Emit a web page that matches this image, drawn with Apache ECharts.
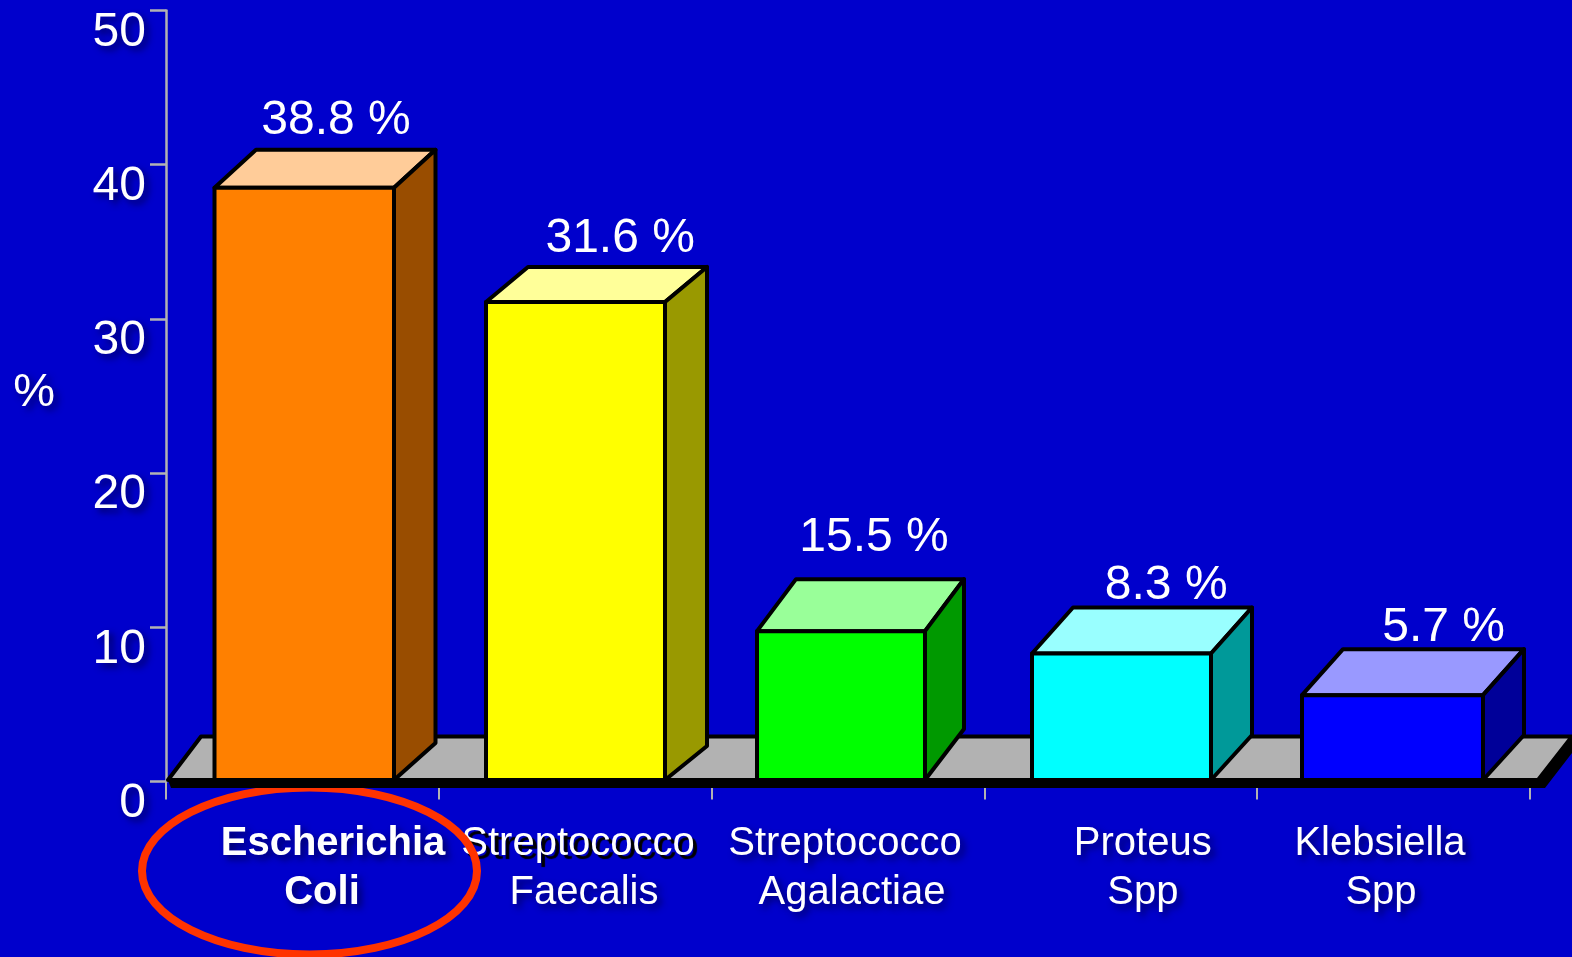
<!DOCTYPE html>
<html>
<head>
<meta charset="utf-8">
<style>
  html, body { margin: 0; padding: 0; background: #0000cc; }
  #chart { width: 1572px; height: 957px; }
</style>
<script src="https://cdn.jsdelivr.net/npm/echarts@6/dist/echarts.min.js"></script>
</head>
<body>
<div id="chart"></div>
<script>
// data (drawn heights differ from the printed labels)
const categories = ['Escherichia\nColi', 'Streptococco\nFaecalis', 'Streptococco\nAgalactiae', 'Proteus\nSpp', 'Klebsiella\nSpp'];
const barHeights = [38.5, 31.1, 9.75, 8.3, 5.6];
const barLabels = ['38.8 %', '31.6 %', '15.5 %', '8.3 %', '5.7 %'];
const yTicks = [0, 10, 20, 30, 40, 50];

// colours per box
const frontColors = ['#ff8000', '#ffff00', '#00ff00', '#00ffff', '#0000ff'];
const topColors = ['#ffcc99', '#ffff99', '#99ff99', '#99ffff', '#9999ff'];
const sideColors = ['#994d00', '#999900', '#009900', '#009999', '#000099'];

// hand placed box geometry, in pixels
const boxLeft = [-87.9, -89.2, -91, -88.8, -91.6];
const boxWidth = [179.5, 179, 168, 179, 181];
const boxDepthX = [41.5, 42, 39, 41, 41];
const boxDepthY = [38, 35, 52, 46, 46];
const labelDx = [33.6, 45, 26, 45.4, 50];
const labelDy = [29, 28.5, 41, 21.5, 21.4];
const nameDx = [[30.6, 19.6], [2.8, 8.8], [-3, 4], [22, 22], [-13.6, -12.6]];

const FONT = '"Liberation Sans", Arial, sans-serif';
const softShadow = {
  textShadowColor: 'rgba(0,0,70,0.8)',
  textShadowBlur: 7,
  textShadowOffsetX: 4,
  textShadowOffsetY: 4
};

const richNames = {};
categories.forEach((name, i) => {
  nameDx[i].forEach((dx, line) => {
    richNames['c' + i + 'l' + line] = {
      color: '#fff',
      fontFamily: FONT,
      fontSize: 40,
      lineHeight: 49,
      fontWeight: i === 0 ? 'bold' : 'normal',
      padding: dx > 0 ? [0, 0, 0, 2 * dx] : [0, -2 * dx, 0, 0],
      ...softShadow,
      // the first Streptococco has a hard black shadow in the source
      ...(i === 1 && line === 0
        ? { textShadowColor: '#000', textShadowBlur: 1, textShadowOffsetX: 4, textShadowOffsetY: 4 }
        : {})
    };
  });
});

const renderFloor = (params, api) => {
  const cs = params.coordSys;
  const y0 = api.coord([0, 0])[1] - 1.5;
  const xl = cs.x + 2;
  const xr = cs.x + cs.width + 8;
  const backDx = 34;
  const backDy = 43.5;
  return {
    type: 'group',
    children: [
      {
        type: 'polygon',
        shape: { points: [[xl, y0], [xr, y0], [xr + backDx, y0 - backDy], [xr + backDx, y0 - 27], [xr + 7, y0 + 8], [xl + 3, y0 + 8]] },
        style: { fill: '#000' }
      },
      {
        type: 'polygon',
        shape: { points: [[xl, y0], [xl + backDx - 1, y0 - backDy], [xr + backDx, y0 - backDy], [xr, y0]] },
        style: { fill: '#b2b2b2', stroke: '#000', lineWidth: 4, lineJoin: 'round' }
      }
    ]
  };
};

const renderBox = (params, api) => {
  const i = api.value(0);
  const centre = api.coord([i, 0])[0];
  const yBase = api.coord([i, 0])[1] - 1.5;
  const yTop = api.coord([i, api.value(1)])[1];
  const x0 = centre + boxLeft[i];
  const x1 = x0 + boxWidth[i];
  const dx = boxDepthX[i];
  const dy = boxDepthY[i];
  const edge = { stroke: '#000', lineWidth: 4, lineJoin: 'round' };
  return {
    type: 'group',
    children: [
      {
        type: 'polygon',
        shape: { points: [[x0, yTop], [x0 + dx, yTop - dy], [x1 + dx, yTop - dy], [x1, yTop]] },
        style: { fill: topColors[i], ...edge }
      },
      {
        type: 'polygon',
        shape: { points: [[x1, yTop], [x1 + dx, yTop - dy], [x1 + dx, yBase - dy + 1], [x1, yBase]] },
        style: { fill: sideColors[i], ...edge }
      },
      {
        type: 'rect',
        shape: { x: x0, y: yTop, width: x1 - x0, height: yBase - yTop },
        style: { fill: frontColors[i], ...edge }
      },
      {
        type: 'text',
        style: {
          x: centre + labelDx[i],
          y: yTop - dy - labelDy[i],
          text: barLabels[i],
          fill: '#fff',
          font: '48px ' + FONT,
          align: 'center',
          verticalAlign: 'middle',
          shadowColor: softShadow.textShadowColor,
          shadowBlur: 7,
          shadowOffsetX: 4,
          shadowOffsetY: 4
        }
      }
    ]
  };
};

const chart = echarts.init(document.getElementById('chart'));
chart.setOption({
  animation: false,
  backgroundColor: '#0000cc',
  grid: { left: 166, width: 1364, top: 10.5, height: 771, outerBoundsMode: 'none' },
  graphic: [
    {
      type: 'ellipse',
      z: 1,
      shape: { cx: 309.5, cy: 871, rx: 167.5, ry: 83.5 },
      style: { fill: 'none', stroke: '#ff3300', lineWidth: 8 }
    }
  ],
  xAxis: {
    type: 'category',
    data: categories,
    boundaryGap: true,
    axisLine: { show: false },
    axisTick: {
      show: true,
      alignWithLabel: false,
      length: 18,
      lineStyle: { color: '#b2b2b2', width: 2 }
    },
    axisLabel: {
      interval: 0,
      hideOverlap: false,
      margin: 38,
      formatter: (value, index) =>
        value.split('\n').map((t, line) => '{c' + index + 'l' + line + '|' + t + '}').join('\n'),
      rich: richNames
    }
  },
  yAxis: {
    type: 'value',
    min: yTicks[0],
    max: yTicks[yTicks.length - 1],
    interval: 10,
    name: '%',
    nameLocation: 'middle',
    nameRotate: 0,
    nameGap: 111,
    nameTextStyle: { color: '#fff', fontFamily: FONT, fontSize: 47, verticalAlign: 'bottom', lineHeight: 6, ...softShadow },
    splitLine: { show: false },
    axisLine: {
      show: true,
      lineStyle: { color: '#b2b2b2', width: 2.5 }
    },
    axisTick: {
      show: true,
      length: 16,
      lineStyle: { color: '#b2b2b2', width: 2.5 }
    },
    axisLabel: {
      color: '#fff',
      fontFamily: FONT,
      fontSize: 48,
      margin: 20,
      verticalAlign: 'top',
      lineHeight: 44,
      ...softShadow
    }
  },
  series: [
    {
      type: 'custom',
      name: 'floor',
      z: 2,
      renderItem: renderFloor,
      data: [[0, 0]],
      encode: { x: 0, y: 1 },
      silent: true
    },
    {
      type: 'custom',
      name: 'boxes',
      z: 3,
      renderItem: renderBox,
      data: barHeights.map((v, i) => [i, v]),
      encode: { x: 0, y: 1 },
      silent: true
    }
  ]
});
</script>
</body>
</html>
